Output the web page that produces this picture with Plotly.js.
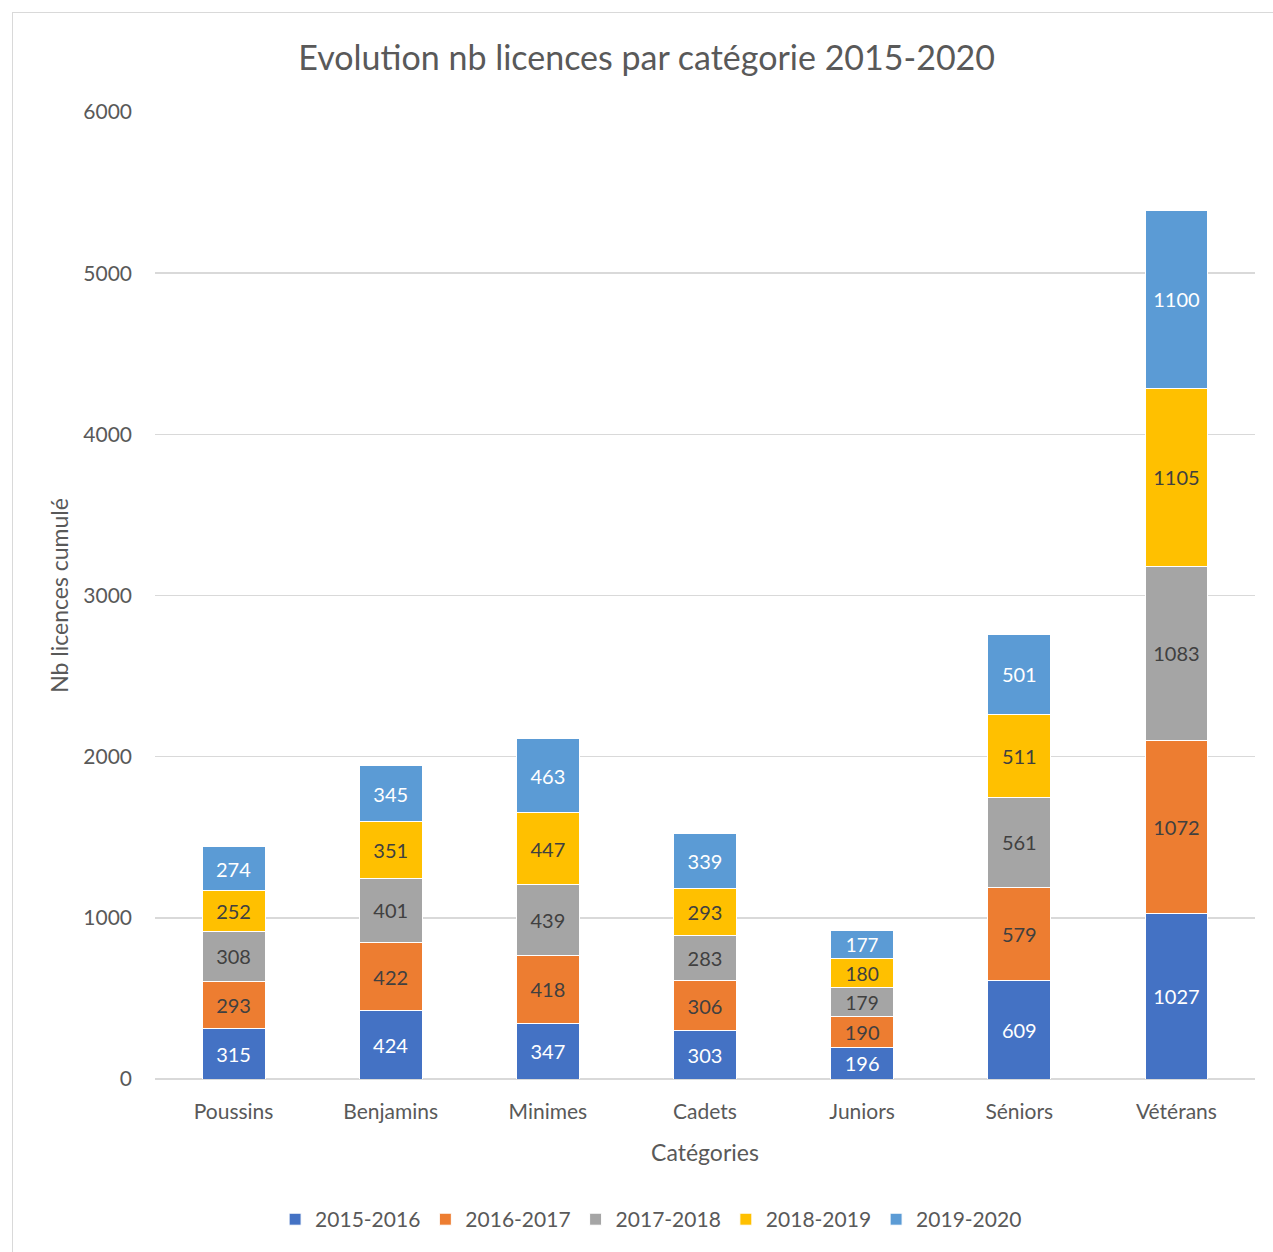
<!DOCTYPE html>
<html><head><meta charset="utf-8">
<script src="https://cdn.plot.ly/plotly-3.0.1.min.js"></script>
<style>
html,body{margin:0;padding:0;background:#fff;overflow:hidden}
#wrap{position:relative;width:1273px;height:1252px}
#chart{position:absolute;left:0;top:0;width:1273px;height:1252px}
#frame{position:absolute;left:12px;top:12px;width:1270px;height:1250px;border:1.5px solid #d9d9d9;pointer-events:none;box-sizing:border-box}
</style></head>
<body>
<div id="wrap"><div id="chart"></div><div id="frame"></div></div>
<script>
const categories = ["Poussins","Benjamins","Minimes","Cadets","Juniors","Séniors","Vétérans"];
const seasons = ["2015-2016","2016-2017","2017-2018","2018-2019","2019-2020"];
const s2015 = [315,424,347,303,196,609,1027];
const s2016 = [293,422,418,306,190,579,1072];
const s2017 = [308,401,439,283,179,561,1083];
const s2018 = [252,351,447,293,180,511,1105];
const s2019 = [274,345,463,339,177,501,1100];
const colors = ["#4472C4","#ED7D31","#A5A5A5","#FFC000","#5B9BD5"];
const labelColors = ["#ffffff","#404040","#404040","#404040","#ffffff"];
const series = [s2015,s2016,s2017,s2018,s2019];
const font = "Lato, 'Open Sans', sans-serif";

const traces = series.map((vals,i)=>({
  type:'bar', name:seasons[i], x:categories, y:vals,
  text:vals.map(String), textposition:'inside', insidetextanchor:'middle',
  textangle:0,
  textfont:{size:20,color:labelColors[i],family:font},
  marker:{color:colors[i],line:{color:'#ffffff',width:1}},
  hoverinfo:'none'
}));

const layout = {
  width:1273, height:1252,
  margin:{l:155,r:18,t:112,b:170},
  barmode:'stack', bargap:0.6,
  paper_bgcolor:'#fff', plot_bgcolor:'#fff',
  font:{family:font,color:'#595959',size:20},
  title:{text:'Evolution nb licences par catégorie 2015-2020',
    font:{size:34,color:'#595959',family:font},
    xref:'paper', x:0.447, xanchor:'center', yref:'container', y:1-58/1252, yanchor:'middle'},
  xaxis:{showgrid:false, showline:false, zeroline:false, ticks:'',
    ticklabelstandoff:18,
    tickfont:{size:21,color:'#595959'},
    title:{text:'Catégories',font:{size:23,color:'#595959'},standoff:22}},
  yaxis:{range:[0,6000], dtick:1000, showgrid:true, gridcolor:'#d9d9d9', gridwidth:1.5,
    zeroline:true, zerolinecolor:'#d9d9d9', zerolinewidth:1.5, showline:false, ticks:'',
    ticklabelstandoff:22,
    tickfont:{size:21,color:'#595959'},
    title:{text:'Nb licences cumulé',font:{size:23,color:'#595959'},standoff:8}},
  showlegend:true,
  legend:{orientation:'h', x:0.451, xanchor:'center', y:(1082-1223)/970, yanchor:'middle',
    font:{size:21,color:'#595959'}, itemwidth:30, traceorder:'normal', itemclick:false},
};
Plotly.newPlot('chart',traces,layout,{staticPlot:true,displayModeBar:false});
</script>
</body></html>
